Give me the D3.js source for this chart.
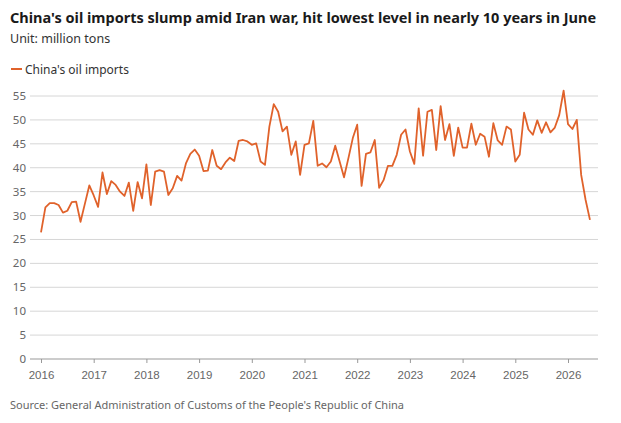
<!DOCTYPE html>
<html>
<head>
<meta charset="utf-8">
<script src="https://cdn.jsdelivr.net/npm/d3@7"></script>
<style>
  body { margin: 0; background: #fff; font-family: "Noto Sans", "Liberation Sans", sans-serif; }
  .title { font-weight: bold; font-size: 14.5px; fill: #1a1a1a; }
  .sub { font-size: 12.5px; fill: #333; }
  .tick text { font-size: 11.5px; fill: #666; }
  .source { font-size: 11px; fill: #666; }
</style>
</head>
<body>
<svg id="chart" width="621" height="423"></svg>
<script>
// Monthly imports, Jan 2016 .. Jun 2026 (million tons)
const startYear = 2016;
const imports = [
  26.5, 31.7, 32.6, 32.6, 32.2, 30.6, 31.0, 32.8, 32.9, 28.7, 32.5, 36.3,
  34.2, 31.8, 39.0, 34.5, 37.2, 36.4, 35.0, 34.1, 36.9, 31.0, 37.0, 33.6,
  40.7, 32.2, 39.2, 39.5, 39.2, 34.3, 35.7, 38.3, 37.3, 40.9, 42.9, 43.8,
  42.5, 39.3, 39.4, 43.7, 40.4, 39.7, 41.1, 42.1, 41.4, 45.6, 45.8, 45.5,
  44.8, 45.1, 41.3, 40.6, 48.6, 53.3, 51.7, 47.6, 48.6, 42.7, 45.5, 38.5,
  44.8, 45.1, 49.8, 40.4, 40.9, 40.1, 41.3, 44.6, 41.3, 38.0, 42.0, 46.2,
  49.0, 36.2, 42.9, 43.2, 45.8, 35.8, 37.4, 40.4, 40.4, 42.7, 46.9, 48.0,
  43.4, 40.8, 52.4, 42.5, 51.7, 52.1, 43.7, 52.9, 45.8, 49.1, 42.5, 48.4,
  44.2, 44.2, 49.2, 44.8, 47.1, 46.5, 42.3, 49.3, 45.7, 44.8, 48.6, 48.0,
  41.3, 42.7, 51.5, 48.0, 46.9, 49.9, 47.3, 49.5, 47.4, 48.4, 51.0, 56.1,
  49.1, 48.1, 50.0, 38.5, 33.3, 29.1
];
const yTicks = [0, 5, 10, 15, 20, 25, 30, 35, 40, 45, 50, 55];
const xTicks = [2016, 2017, 2018, 2019, 2020, 2021, 2022, 2023, 2024, 2025, 2026];

const svg = d3.select("#chart");
const color = "#e0622b";

const x = d3.scaleLinear().domain([2016, 2026]).range([41, 568]);
const y = d3.scaleLinear().domain([0, 55]).range([359, 96]);
const gridLeft = 30, gridRight = 598;

svg.append("text").attr("class", "title").attr("x", 10).attr("y", 23)
  .text("China's oil imports slump amid Iran war, hit lowest level in nearly 10 years in June");
svg.append("text").attr("class", "sub").attr("x", 10).attr("y", 43).text("Unit: million tons");

// Legend
svg.append("line").attr("x1", 11).attr("x2", 22).attr("y1", 69).attr("y2", 69)
  .attr("stroke", color).attr("stroke-width", 2);
svg.append("text").attr("class", "sub").attr("x", 25).attr("y", 73.5).style("font-size", "12px")
  .text("China's oil imports");

// Gridlines + y labels
const gy = svg.append("g");
gy.selectAll("line").data(yTicks).join("line")
  .attr("x1", gridLeft).attr("x2", gridRight)
  .attr("y1", d => y(d)).attr("y2", d => y(d))
  .attr("stroke", d => d === 0 ? "#999" : "#d6d6d6").attr("stroke-width", 1);
gy.selectAll("text").data(yTicks).join("text")
  .attr("class", "tick")
  .attr("x", 26).attr("y", d => y(d) + 4)
  .attr("text-anchor", "end")
  .style("font-size", "11.5px").style("fill", "#666")
  .text(d => d);

// X axis
const xAxis = d3.axisBottom(x).tickValues(xTicks).tickFormat(d3.format("d"))
  .tickSizeInner(4).tickSizeOuter(0);
const gx = svg.append("g").attr("transform", `translate(0, ${y(0)})`).call(xAxis);
gx.select(".domain").remove();
gx.selectAll(".tick line").attr("stroke", "#999");
gx.selectAll(".tick text").attr("dy", "1.1em");

// Line
const line = d3.line()
  .x((d, i) => x(startYear + i / 12))
  .y(d => y(d))
  .curve(d3.curveLinear);
svg.append("path").datum(imports)
  .attr("fill", "none").attr("stroke", color).attr("stroke-width", 1.8)
  .attr("stroke-linejoin", "round")
  .attr("d", line);

svg.append("text").attr("class", "source").attr("x", 10).attr("y", 409)
  .text("Source: General Administration of Customs of the People's Republic of China");
</script>
</body>
</html>
